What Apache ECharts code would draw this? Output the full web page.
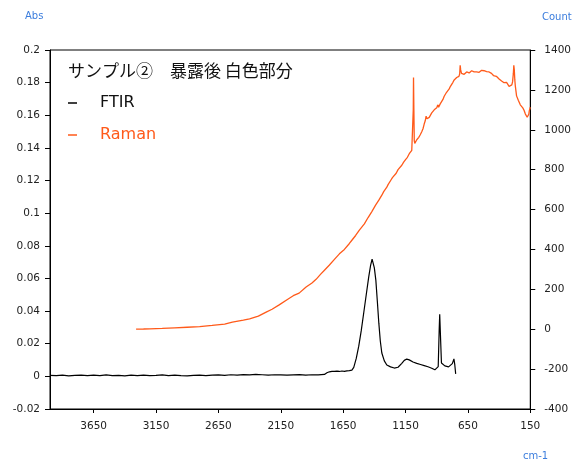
<!DOCTYPE html>
<html>
<head>
<meta charset="utf-8">
<script src="https://cdn.jsdelivr.net/npm/echarts@6/dist/echarts.min.js"></script>
<style>
html,body{margin:0;padding:0;background:#fff;}
#chart{width:574px;height:461px;}
</style>
</head>
<body>
<div id="chart"></div>
<script>
// ---- data ----
const titleText = 'サンプル②　暴露後 白色部分';
const seriesNames = ['FTIR', 'Raman'];
const xTicks = [150, 650, 1150, 1650, 2150, 2650, 3150, 3650];

const ftirWn = [4000,3950,3900,3850,3800,3750,3700,3650,3600,3550,3500,3450,3400,3350,3300,3250,3200,3150,3100,3050,3000,2950,2900,2850,2800,2750,2700,2650,2600,2550,2500,2450,2400,2350,2300,2250,2200,2150,2100,2050,2000,1950,1900,1850,1800,1780,1760,1740,1720,1700,1680,1660,1640,1620,1600,1580,1565,1545,1525,1505,1485,1465,1445,1430,1418,1410,1400,1388,1376,1364,1352,1340,1320,1300,1270,1240,1210,1180,1160,1140,1120,1090,1060,1030,1000,970,940,915,900,888,880,876,870,862,850,835,820,805,790,775,762,755,748];
const ftirAbs = [0.0006,0.0004,0.0007,0.0003,0.0006,0.0008,0.0004,0.0007,0.0005,0.0009,0.0004,0.0006,0.0003,0.0007,0.0005,0.0008,0.0004,0.0006,0.0009,0.0005,0.0007,0.0004,0.0003,0.0006,0.0008,0.0005,0.0007,0.0009,0.0006,0.0010,0.0008,0.0011,0.0009,0.0012,0.0010,0.0008,0.0010,0.0009,0.0007,0.0009,0.0011,0.0008,0.0010,0.0009,0.0012,0.0022,0.0028,0.0030,0.0031,0.0032,0.0030,0.0033,0.0031,0.0034,0.0035,0.0038,0.0055,0.0110,0.0185,0.0280,0.0390,0.0500,0.0610,0.0680,0.0718,0.0712,0.0665,0.0590,0.0460,0.0326,0.0215,0.0143,0.0095,0.0070,0.0058,0.0051,0.0056,0.0080,0.0098,0.0106,0.0101,0.0088,0.0080,0.0073,0.0066,0.0059,0.0050,0.0040,0.0033,0.0060,0.0290,0.0380,0.0250,0.0082,0.0072,0.0064,0.0066,0.0058,0.0061,0.0078,0.0107,0.0070,0.0015];

const ramanWn = [3310,3250,3200,3100,3000,2900,2800,2700,2600,2538,2450,2400,2330,2267,2220,2163,2100,2050,2003,1947,1900,1867,1830,1800,1760,1720,1680,1640,1600,1580,1550,1520,1480,1450,1420,1390,1364,1352,1340,1325,1310,1300,1290,1280,1268,1255,1240,1225,1210,1195,1180,1165,1150,1135,1120,1110,1100,1092,1088,1086,1083,1080,1076,1068,1060,1052,1044,1032,1020,1010,1000,992,985,978,970,960,950,940,930,920,910,900,892,885,872,860,850,840,830,821,810,800,790,780,770,760,749,740,730,722,716,712,708,701,692,680,670,660,650,640,630,620,610,600,589,580,570,560,550,540,530,520,509,500,495,488,480,470,461,452,445,438,430,422,415,408,400,395,389,380,370,360,350,340,330,320,310,304,298,292,286,282,278,274,270,265,260,253,246,238,230,220,210,200,190,182,175,170,166,162,158,154,150];
const ramanCount = [0,1,2,4,7,10,13,19,26,36,46,52,66,86,100,122,148,168,181,212,232,250,276,296,322,350,378,400,430,446,470,497,528,560,590,622,647,660,672,690,700,712,725,732,747,760,770,782,800,808,822,838,850,862,880,886,897,905,1100,1262,1100,945,932,940,950,955,962,975,990,1005,1030,1045,1068,1055,1060,1062,1072,1085,1093,1100,1108,1110,1125,1113,1130,1140,1152,1168,1172,1188,1195,1205,1218,1225,1238,1250,1258,1262,1265,1268,1280,1323,1300,1283,1280,1278,1286,1290,1282,1285,1292,1296,1288,1290,1298,1290,1292,1288,1296,1298,1303,1296,1303,1292,1285,1292,1290,1280,1283,1275,1272,1262,1265,1268,1270,1258,1255,1262,1258,1245,1240,1236,1232,1238,1228,1218,1213,1220,1225,1240,1280,1323,1300,1250,1220,1195,1170,1160,1148,1140,1125,1118,1110,1098,1080,1072,1063,1070,1063,1078,1095,1105,1113];

const ftirData = ftirWn.map((w, i) => [w, ftirAbs[i]]);
const ramanData = ramanWn.map((w, i) => [w, ramanCount[i]]);

const ORANGE = '#ff5a1a';
const BLUE = '#3b7ddd';
const labelFont = { fontFamily: 'DejaVu Sans', fontSize: 10.5, color: '#222' };
const plain = v => String(v);

const chart = echarts.init(document.getElementById('chart'), null, { renderer: 'canvas' });
chart.setOption({
  animation: false,
  backgroundColor: '#fff',
  grid: { left: 50, right: 42, top: 50, bottom: 52, show: true, borderColor: '#000', borderWidth: 1 },
  xAxis: {
    type: 'value', min: 150, max: 4000, inverse: true,
    axisLine: { show: true, onZero: false, lineStyle: { color: '#000', width: 1 } },
    axisTick: { show: true, length: 4, lineStyle: { color: '#000' }, customValues: xTicks },
    axisLabel: Object.assign({ margin: 12, customValues: xTicks, formatter: plain }, labelFont),
    splitLine: { show: false }
  },
  yAxis: [
    {
      type: 'value', min: -0.02, max: 0.2, interval: 0.02, position: 'left',
      axisLine: { show: true, onZero: false, lineStyle: { color: '#000', width: 1 } },
      axisTick: { show: true, length: 5, lineStyle: { color: '#000' } },
      axisLabel: Object.assign({ margin: 10, formatter: v => String(+v.toFixed(2)) }, labelFont),
      splitLine: { show: false }
    },
    {
      type: 'value', min: -400, max: 1400, interval: 200, position: 'right',
      axisLine: { show: true, onZero: false, lineStyle: { color: '#000', width: 1 } },
      axisTick: { show: true, length: 5, lineStyle: { color: '#000' } },
      axisLabel: Object.assign({ margin: 14, formatter: plain }, labelFont),
      splitLine: { show: false }
    }
  ],
  series: [
    { name: seriesNames[0], type: 'line', yAxisIndex: 0, data: ftirData, showSymbol: false, symbol: 'none',
      lineStyle: { color: '#000', width: 1.2 }, itemStyle: { color: '#000' } },
    { name: seriesNames[1], type: 'line', yAxisIndex: 1, data: ramanData, showSymbol: false, symbol: 'none',
      lineStyle: { color: ORANGE, width: 1.3 }, itemStyle: { color: ORANGE } }
  ],
  graphic: [
    { type: 'text', x: 25, y: 16, style: { text: 'Abs', fill: BLUE, font: '10px "DejaVu Sans"', verticalAlign: 'middle' } },
    { type: 'text', x: 542, y: 17, style: { text: 'Count', fill: BLUE, font: '10px "DejaVu Sans"', verticalAlign: 'middle' } },
    { type: 'text', x: 523, y: 456, style: { text: 'cm-1', fill: BLUE, font: '10px "DejaVu Sans"', verticalAlign: 'middle' } },
    { type: 'text', x: 68, y: 71, style: { text: titleText, fill: '#111', font: '17px "Noto Sans CJK JP"', verticalAlign: 'middle' } },
    { type: 'line', shape: { x1: 68, y1: 103, x2: 77, y2: 103 }, style: { stroke: '#000', lineWidth: 1.5 } },
    { type: 'text', x: 100, y: 103, style: { text: seriesNames[0], fill: '#111', font: '16px "DejaVu Sans"', verticalAlign: 'middle' } },
    { type: 'line', shape: { x1: 68, y1: 135, x2: 77, y2: 135 }, style: { stroke: ORANGE, lineWidth: 1.5 } },
    { type: 'text', x: 100, y: 135, style: { text: seriesNames[1], fill: ORANGE, font: '16px "DejaVu Sans"', verticalAlign: 'middle' } }
  ]
});
</script>
</body>
</html>
